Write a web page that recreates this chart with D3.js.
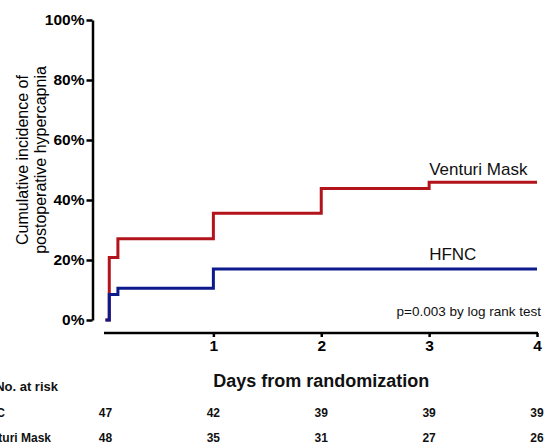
<!DOCTYPE html>
<html>
<head>
<meta charset="utf-8">
<script src="https://cdn.jsdelivr.net/npm/d3@7"></script>
<style>
  body { margin: 0; background: #fff; }
  svg { display: block; font-family: "Liberation Sans", Arial, sans-serif; }
</style>
</head>
<body>
<div id="graf"></div>
<script>
// Datos
const days = [0, 1, 2, 3, 4]
const yTicks = [0, 20, 40, 60, 80, 100]
const hfncTimes = [0, 0.035, 0.115, 1, 4]
const hfncIncidence = [0, 8.5, 10.6, 17.0, 17.0]
const venturiTimes = [0, 0.035, 0.115, 1, 2, 3, 4]
const venturiIncidence = [0, 20.8, 27.1, 35.6, 43.8, 45.9, 45.9]
const hfncAtRisk = [47, 42, 39, 39, 39]
const venturiAtRisk = [48, 35, 31, 27, 26]

const anchoTotal = 548
const altoTotal = 446

const svg = d3.select('#graf').append('svg')
    .attr('width', anchoTotal)
    .attr('height', altoTotal)

// Escaladores
const x = d3.scaleLinear().domain([0, 4]).range([105.5, 537])
const y = d3.scaleLinear().domain([0, 100]).range([320, 20])

const rojo = '#b3141c'
const azul = '#0c1a8c'

// Ejes
const yAxis = d3.axisLeft(y)
    .tickValues(yTicks)
    .tickFormat(d => d + '%')
    .tickSize(6)
    .tickSizeOuter(0)
    .tickPadding(2)

const yAxisGroup = svg.append('g')
    .attr('transform', 'translate(92.5, 0)')
    .call(yAxis)

const xAxis = d3.axisBottom(x)
    .tickValues([1, 2, 3, 4])
    .tickFormat(d3.format('d'))
    .tickSize(4)
    .tickSizeOuter(0)
    .tickPadding(3)

const xAxisGroup = svg.append('g')
    .attr('transform', 'translate(0, 333)')
    .call(xAxis)

xAxisGroup.select('.domain').attr('d', `M${x(0) - 1.5},0H${x(4) + 1}`)

for (const grp of [yAxisGroup, xAxisGroup]) {
    grp.select('.domain').attr('stroke', '#000').attr('stroke-width', 2.5)
    grp.selectAll('.tick line').attr('stroke', '#000').attr('stroke-width', 2.5)
    grp.selectAll('.tick text')
        .attr('fill', '#000')
        .style('font-size', '15.5px')
        .style('font-weight', 'bold')
        .style('font-family', '"Liberation Sans", Arial, sans-serif')
}

// Curvas
const linea = (times, vals) => d3.line()
    .x((d, i) => x(times[i]))
    .y(d => y(d))
    .curve(d3.curveStepAfter)(vals)

svg.append('path')
    .attr('d', linea(venturiTimes, venturiIncidence))
    .attr('fill', 'none')
    .attr('stroke', rojo)
    .attr('stroke-width', 3)

svg.append('path')
    .attr('d', linea(hfncTimes, hfncIncidence))
    .attr('fill', 'none')
    .attr('stroke', azul)
    .attr('stroke-width', 3)

// Etiquetas
svg.append('text')
    .attr('x', x(3))
    .attr('y', y(48.3))
    .style('font-size', '17px')
    .attr('fill', '#111')
    .text('Venturi Mask')

svg.append('text')
    .attr('x', x(3))
    .attr('y', y(20))
    .style('font-size', '17px')
    .attr('fill', '#111')
    .text('HFNC')

svg.append('text')
    .attr('x', 541)
    .attr('y', 316)
    .attr('text-anchor', 'end')
    .style('font-size', '13.5px')
    .attr('fill', '#111')
    .text('p=0.003 by log rank test')

// Titulos
const yTitulo = svg.append('text')
    .attr('transform', 'translate(28, 160) rotate(-90)')
    .attr('text-anchor', 'middle')
    .style('font-size', '16px')
    .attr('fill', '#000')
yTitulo.append('tspan').attr('x', 0).attr('y', 0).text('Cumulative incidence of')
yTitulo.append('tspan').attr('x', 0).attr('y', 18).text('postoperative hypercapnia')

svg.append('text')
    .attr('x', (x(1) + x(3)) / 2)
    .attr('y', 387)
    .attr('text-anchor', 'middle')
    .style('font-size', '18px')
    .style('font-weight', 'bold')
    .attr('fill', '#111')
    .text('Days from randomization')

// Tabla de riesgo
const tabla = svg.append('g')
    .style('font-size', '12px')
    .style('font-weight', 'bold')
    .attr('fill', '#111')

tabla.append('text').attr('x', 58).attr('y', 391).attr('text-anchor', 'end').style('font-size', '13px').text('No. at risk')
tabla.append('text').attr('x', 5).attr('y', 417).attr('text-anchor', 'end').text('HFNC')
tabla.append('text').attr('x', 51).attr('y', 442).attr('text-anchor', 'end').text('Venturi Mask')

tabla.selectAll('.hfnc')
    .data(hfncAtRisk)
    .enter()
    .append('text')
    .attr('x', (d, i) => x(days[i]))
    .attr('y', 417)
    .attr('text-anchor', 'middle')
    .text(d => d)

tabla.selectAll('.venturi')
    .data(venturiAtRisk)
    .enter()
    .append('text')
    .attr('x', (d, i) => x(days[i]))
    .attr('y', 442)
    .attr('text-anchor', 'middle')
    .text(d => d)
</script>
</body>
</html>
